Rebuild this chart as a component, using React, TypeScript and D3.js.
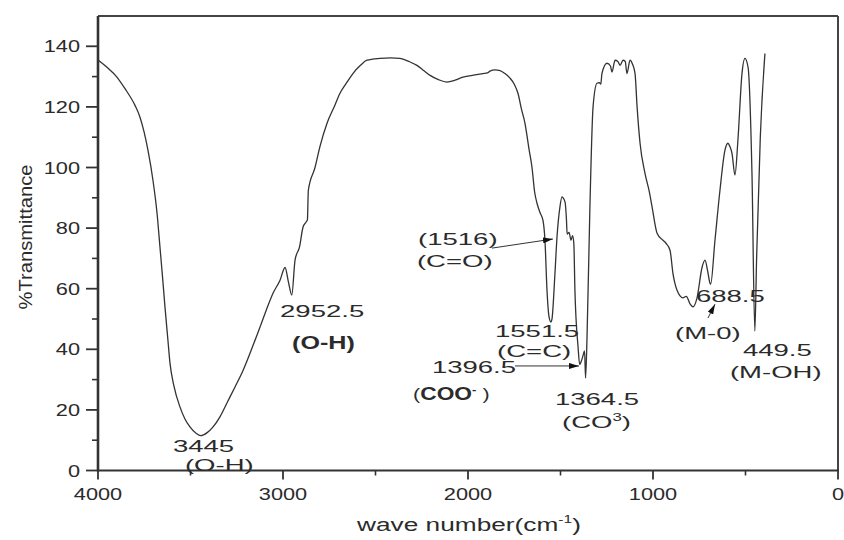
import React from 'react';
import * as d3 from 'd3';

const W = 844;
const H = 540;

// FTIR spectrum (wave number in cm^-1, % transmittance)
const wavenumbers = [
  4000, 3950, 3900, 3854, 3800, 3773, 3750, 3730, 3703, 3681, 3665, 3650, 3638, 3622, 3611, 3590, 3557, 3530, 3503, 3470,
  3445, 3410, 3378, 3340, 3303, 3260, 3216, 3170, 3124, 3090, 3054, 3016, 2989, 2970, 2952.5, 2935, 2910, 2892, 2875, 2868,
  2863, 2827, 2800, 2762, 2720, 2692, 2650, 2622, 2580, 2546, 2476, 2420, 2368, 2320, 2276, 2240, 2205, 2160, 2114, 2070,
  2027, 1970, 1919, 1895, 1881, 1855, 1827, 1800, 1773, 1750, 1730, 1710, 1692, 1670, 1654, 1640, 1627, 1610, 1595, 1584,
  1573, 1562, 1551.5, 1546, 1530, 1519, 1503, 1492, 1486, 1475, 1468, 1464, 1454, 1443, 1435, 1428, 1422, 1405, 1396.5, 1388,
  1380, 1370, 1364.5, 1357, 1341, 1324, 1303, 1290, 1282, 1276, 1249, 1230, 1222, 1205, 1190, 1178, 1162, 1150, 1141, 1124,
  1110, 1097, 1086, 1070, 1043, 1020, 1005, 978, 946, 930, 908, 892, 870, 838, 820, 800, 784, 762, 735, 719,
  705, 692, 688.5, 665, 638, 611, 595, 585, 573, 557, 541, 519, 503, 486, 465, 449.5, 440, 420, 395,
];
const transmittance = [
  135.5, 133, 130, 126, 120.5, 116.6, 111.5, 105.7, 95.8, 85, 73.7, 63, 54, 43, 35.5, 28, 21, 17, 14.4, 12.3,
  11.5, 12.5, 14.4, 17.8, 22.3, 27.5, 33, 40, 47.4, 53, 58.5, 62.8, 67, 62, 57.9, 69.4, 74, 80.3, 82, 82.8,
  92.5, 100, 107, 114.6, 120.5, 124.5, 128.5, 131, 133.8, 135.4, 136, 136.2, 136, 135, 133.7, 132, 130.4, 129, 128.2, 128.8,
  129.8, 130.5, 131, 131.2, 131.8, 132.2, 132, 131, 129.5, 127.5, 124.5, 119, 114.6, 106, 100, 92, 88.2, 85, 82.6, 76,
  59.5, 50.7, 49, 50, 65, 77, 87, 90.3, 90, 88.5, 83, 78, 78.6, 76, 77.5, 75, 59.5, 40.7, 35, 36,
  37.5, 39.5, 30.5, 43, 87, 120, 127.8, 128, 127.5, 131, 134.4, 133.5, 131.5, 135.4, 135, 133.7, 135.4, 135, 131, 135.4,
  134, 131, 120, 108, 98, 92, 87, 78.3, 76, 75, 72.7, 65, 59.5, 57, 57.5, 55, 54, 57, 67, 69.4,
  66, 61.8, 61.5, 76, 92.5, 105.7, 108, 107, 104.7, 97.5, 109, 131, 136, 133, 98, 46, 70, 110, 137.6,
];

const yMajorTicks = [0, 20, 40, 60, 80, 100, 120, 140];
const yMinorTicks = [10, 30, 50, 70, 90, 110, 130];
const xMajorTicks = [4000, 3000, 2000, 1000, 0];
const xMinorTicks = [3500, 2500, 1500, 500];

type Part = { text: string; bold?: boolean; sup?: boolean };
type Note = { w: number; t: number; parts: Part[]; sx?: number };

// peak labels, anchored (start, baseline) in data units
const notes: Note[] = [
  { w: 3016, t: 50.6, parts: [{ text: '2952.5' }] },
  { w: 2951, t: 40, parts: [{ text: '(O-H)', bold: true }], sx: 1.38 },
  { w: 3595, t: 6.2, parts: [{ text: '3445' }] },
  { w: 3530, t: 0, parts: [{ text: '(O-H)' }] },
  { w: 2270, t: 74.4, parts: [{ text: '(1516)' }] },
  { w: 2276, t: 67.1, parts: [{ text: '(C=O)' }] },
  { w: 1854, t: 44, parts: [{ text: '1551.5' }] },
  { w: 1843, t: 37.6, parts: [{ text: '(C=C)' }] },
  { w: 2195, t: 32.2, parts: [{ text: '1396.5' }] },
  { w: 2297, t: 23.3, parts: [{ text: '(' }, { text: 'COO', bold: true }, { text: '-', bold: true, sup: true }, { text: ' )' }], sx: 1.25 },
  { w: 1530, t: 21.6, parts: [{ text: '1364.5' }] },
  { w: 1492, t: 14, parts: [{ text: '(CO' }, { text: '3', sup: true }, { text: ')' }] },
  { w: 768, t: 55.6, parts: [{ text: '688.5' }] },
  { w: 881, t: 43.4, parts: [{ text: '(M-0)' }] },
  { w: 514, t: 37.8, parts: [{ text: '449.5' }] },
  { w: 584, t: 30.5, parts: [{ text: '(M-OH)' }] },
];

// arrows [from, to] in data units
const arrows: [number, number, number, number][] = [
  [1870, 73.4, 1541, 76.4],
  [1746, 34.5, 1400, 34.5],
  [703, 50.3, 665, 54.9],
];

const FONT = '"Liberation Sans", Arial, Helvetica, sans-serif';
const INK = '#2b2b2b';
const NOTE_SIZE = 17.2;

function Stretched({ x, y, sx, size, anchor, weight, children }: any) {
  return (
    <g transform={`translate(${x},${y}) scale(${sx},1)`}>
      <text x={0} y={0} fontSize={size} textAnchor={anchor || 'start'} fontWeight={weight || 'normal'} fill={INK} fontFamily={FONT}>
        {children}
      </text>
    </g>
  );
}

export default function App() {
  const x = d3.scaleLinear().domain([4000, 0]).range([98, 838]);
  const y = d3.scaleLinear().domain([0, 150]).range([470.5, 16]);
  const pts: [number, number][] = wavenumbers.map((w, i) => [w, transmittance[i]]);
  const line = d3
    .line<[number, number]>()
    .x((d) => x(d[0]))
    .y((d) => y(d[1]))
    .curve(d3.curveMonotoneX);

  const x0 = x(4000);
  const x1 = x(0);
  const y0 = y(0);
  const yTop = y(150);

  return (
    <svg width={W} height={H} style={{ position: 'absolute', left: 0, top: 0, background: '#fff' }}>
      <defs>
        <marker id="arr" viewBox="0 0 10 6" refX={10} refY={3} markerWidth={10} markerHeight={6} markerUnits="userSpaceOnUse" orient="auto">
          <path d="M0,0L10,3L0,6z" fill="#111" />
        </marker>
      </defs>
      <rect x={0} y={0} width={W} height={H} fill="#fff" />

      {/* spectrum */}
      <path d={line(pts) || ''} fill="none" stroke="#333" strokeWidth={1.3} strokeLinejoin="round" />

      {/* frame */}
      <line x1={x0} x2={x1} y1={yTop} y2={yTop} stroke="#444" strokeWidth={2} />
      <line x1={x1} x2={x1} y1={yTop} y2={y0} stroke="#444" strokeWidth={2} />
      <line x1={x0} x2={x0} y1={yTop} y2={y0 + 1} stroke="#333" strokeWidth={2.6} />
      <line x1={x0 - 1} x2={x1 + 1} y1={y0} y2={y0} stroke="#333" strokeWidth={2.2} />

      {/* y ticks */}
      {yMajorTicks.map((v) => (
        <g key={'ym' + v}>
          <line x1={x0 - 12} x2={x0} y1={y(v)} y2={y(v)} stroke="#333" strokeWidth={1.8} />
          <Stretched x={80} y={y(v) + 6} sx={1.32} size={16.5} anchor="end">
            {v}
          </Stretched>
        </g>
      ))}
      {yMinorTicks.map((v) => (
        <line key={'yn' + v} x1={x0 - 6} x2={x0} y1={y(v)} y2={y(v)} stroke="#333" strokeWidth={1.6} />
      ))}

      {/* x ticks */}
      {xMajorTicks.map((v) => (
        <g key={'xm' + v}>
          <line x1={x(v)} x2={x(v)} y1={y0} y2={y0 + 9} stroke="#333" strokeWidth={1.8} />
          <Stretched x={x(v)} y={y0 + 29.5} sx={1.32} size={16.5} anchor="middle">
            {v}
          </Stretched>
        </g>
      ))}
      {xMinorTicks.map((v) => (
        <line key={'xn' + v} x1={x(v)} x2={x(v)} y1={y0} y2={y0 + 5} stroke="#333" strokeWidth={1.6} />
      ))}

      {/* axis titles */}
      <Stretched x={469} y={531} sx={1.42} size={18.5} anchor="middle">
        wave number(cm
        <tspan fontSize={11} dy={-8}>-1</tspan>
        <tspan dy={8}>)</tspan>
      </Stretched>
      <g transform={`translate(32,${237}) rotate(-90) scale(1.12,1)`}>
        <text x={0} y={0} fontSize={18} textAnchor="middle" fill={INK} fontFamily={FONT}>
          %Transmittance
        </text>
      </g>

      {/* arrows */}
      {arrows.map((a, i) => (
        <line key={'a' + i} x1={x(a[0])} y1={y(a[1])} x2={x(a[2])} y2={y(a[3])} stroke="#333" strokeWidth={1} markerEnd="url(#arr)" />
      ))}

      {/* peak labels */}
      {notes.map((n, i) => (
        <Stretched key={'n' + i} x={x(n.w)} y={y(n.t)} sx={n.sx || 1.6} size={NOTE_SIZE}>
          {n.parts.map((p, j) => (
            <tspan
              key={j}
              fontWeight={p.bold ? 'bold' : 'normal'}
              fontSize={p.sup ? 10.5 : p.bold ? NOTE_SIZE + 1 : NOTE_SIZE}
              dy={p.sup ? -7 : j > 0 && n.parts[j - 1].sup ? 7 : 0}
            >
              {p.text}
            </tspan>
          ))}
        </Stretched>
      ))}
    </svg>
  );
}
